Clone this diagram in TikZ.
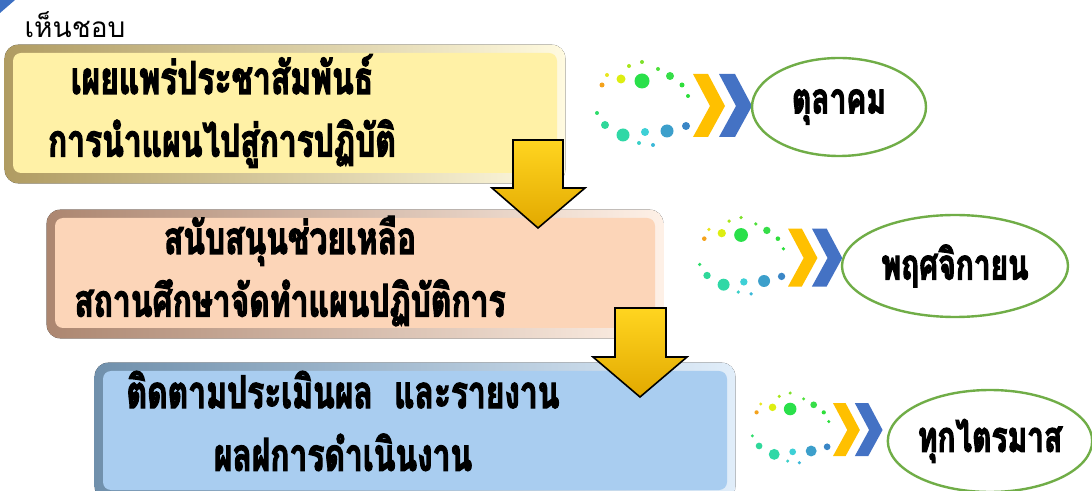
\documentclass[tikz,border=0pt]{standalone}
\usepackage{fontspec}
\newfontfamily\thaifont[Script=Thai]{Loma}
\newfontfamily\thaitall[Script=Thai, FakeStretch=0.7, BoldFeatures={FakeBold=2.5}]{Loma}
\usetikzlibrary{shapes.geometric,backgrounds}

\definecolor{planfill}{HTML}{FFF1A6}
\definecolor{planedge}{HTML}{B09C62}
\definecolor{supportfill}{HTML}{FCD5B8}
\definecolor{supportedge}{HTML}{AC8670}
\definecolor{followfill}{HTML}{A9CDF0}
\definecolor{followedge}{HTML}{7090AC}
\definecolor{arrowtop}{HTML}{FFD520}
\definecolor{arrowbot}{HTML}{E2A900}
\definecolor{ringgreen}{HTML}{70AD47}
\definecolor{chevyellow}{HTML}{FFC000}
\definecolor{chevblue}{HTML}{4472C4}
\definecolor{cornerblue}{HTML}{3C6FC2}

\tikzset{
  HTML/.code={\definecolor{tmpdot}{HTML}{#1}\pgfsetfillcolor{tmpdot}},
  stagebox/.style={rounded corners=6pt, inner sep=0pt},
  stagetext/.style={font=\thaitall\bfseries\fontsize{34}{47}\selectfont,
    align=center, inner sep=0pt},
  monthring/.style={ellipse, draw=ringgreen, line width=1.8pt, fill=white,
    inner sep=0pt, font=\thaitall\bfseries\fontsize{32}{34}\selectfont},
  blockarrow/.style={draw=black, line width=1.2pt, line join=miter,
    top color=arrowtop, bottom color=arrowbot},
  pulse/.pic={
    \fill[HTML=F4A21C] (-91,-21) circle (2.5);
    \fill[HTML=E8E61E] (-86,-31) circle (2);
    \fill[HTML=DDEE11] (-72,-27) circle (4.5);
    \fill[HTML=A8E61A] (-64,-40) circle (2);
    \fill[HTML=7EE02A] (-51,-44) circle (2);
    \fill[HTML=2AE04A] (-51,-25) circle (7.5);
    \fill[HTML=4EE03A] (-35,-37) circle (2);
    \fill[HTML=36DE48] (-23,-30) circle (4);
    \fill[HTML=2EDE3A] (-11,-21) circle (2.5);
    \fill[HTML=2ADE3A] (-5,-10) circle (2);
    \fill[HTML=2EDC6A] (-96,7) circle (2);
    \fill[HTML=2FD89A] (-88,19) circle (4);
    \fill[HTML=30D8A6] (-70,29) circle (6.5);
    \fill[HTML=3AD0C8] (-54,37) circle (2);
    \fill[HTML=3ED0D6] (-48,26) circle (4);
    \fill[HTML=3CB8D8] (-40,39) circle (2);
    \fill[HTML=3C9FCB] (-26,25) circle (6.5);
    \fill[HTML=3A86C6] (-7,20) circle (4);
    \fill[chevyellow] (0,-32) -- (15,-32) -- (32,0) -- (15,31) -- (0,31) -- (17,0) -- cycle;
    \fill[chevblue] (26,-32) -- (42,-32) -- (59,0) -- (42,31) -- (26,31) -- (43,0) -- cycle;
  }
}

\begin{document}
\begin{tikzpicture}[x=0.75pt, y=-0.75pt]
  \useasboundingbox (0,0) rectangle (1092,491);
  \fill[cornerblue] (0,0) -- (15,0) -- (0,13) -- cycle;
  \node[font=\thaifont\fontsize{21}{24}\selectfont, inner sep=0pt] (approve) at (75,25) {เห็นชอบ};

  % stages
  \node[stagebox, fill=planfill, minimum width=408pt, minimum height=90pt] (plan) at (285,113) {};
  \node[stagebox, fill=supportfill, minimum width=450pt, minimum height=82.5pt] (support) at (355,273) {};
  \node[stagebox, fill=followfill, minimum width=468pt, minimum height=89.25pt] (follow) at (415,430.5) {};
  \begin{scope}[on background layer]
    \fill[rounded corners=10pt, left color=planedge, right color=planfill!35!white]
      ([shift={(-8,-8)}]plan.north west) rectangle ([shift={(8,10)}]plan.south east);
    \fill[rounded corners=10pt, left color=supportedge, right color=supportfill!35!white]
      ([shift={(-8,-8)}]support.north west) rectangle ([shift={(8,10)}]support.south east);
    \fill[rounded corners=10pt, left color=followedge, right color=followfill!35!white]
      ([shift={(-8,-8)}]follow.north west) rectangle ([shift={(8,10)}]follow.south east);
  \end{scope}
  \node[stagetext] (plantext) at (222,111) {เผยแพร่ประชาสัมพันธ์\\การนำแผนไปสู่การปฏิบัติ};
  \node[stagetext] (supporttext) at (290,271) {สนับสนุนช่วยเหลือ\\สถานศึกษาจัดทำแผนปฏิบัติการ};
  \node[stagetext] (followtext) at (343,421) {ติดตามประเมินผล\ \ และรายงาน\\ผลฝการดำเนินงาน};

  % block arrows between stages
  \filldraw[blockarrow] (513,140) -- (563,140) -- (563,188) -- (585,188) -- (538,228)
    -- (492,188) -- (513,188) -- cycle;
  \filldraw[blockarrow] (615,308) -- (666,308) -- (666,357) -- (687,357) -- (640,397)
    -- (593,357) -- (615,357) -- cycle;

  % timing
  \pic at (693,106) {pulse};
  \pic[scale=0.92] at (788,258) {pulse};
  \pic[scale=0.84] at (833,430) {pulse};
  \node[monthring, minimum width=130.5pt, minimum height=73.5pt] (oct) at (839,107) {ตุลาคม};
  \node[monthring, minimum width=169.5pt, minimum height=76.5pt] (nov) at (955,266) {พฤศจิกายน};
  \node[monthring, minimum width=153pt, minimum height=76.5pt] (quarter) at (990,441) {ทุกไตรมาส};
\end{tikzpicture}
\end{document}
